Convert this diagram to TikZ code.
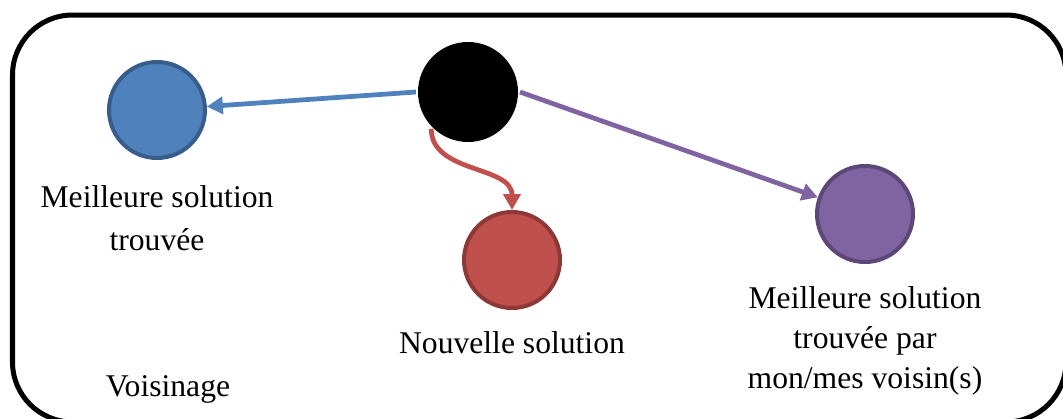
\documentclass[tikz,border=0pt]{standalone}
\usepackage{fontspec}
\setmainfont{Liberation Serif}
\usepackage{xcolor}
\usetikzlibrary{arrows.meta, positioning}

\definecolor{bestblue}{HTML}{4F81BD}
\definecolor{bestblueline}{HTML}{385D8A}
\definecolor{newred}{HTML}{C0504D}
\definecolor{newredline}{HTML}{8C3836}
\definecolor{voisinpurple}{HTML}{8064A2}
\definecolor{voisinpurpleline}{HTML}{5C4776}

\begin{document}
\begin{tikzpicture}[>={Triangle[length=0.32cm, width=0.34cm]}, node distance=0.3cm,
  sol/.style={circle, line width=0.08cm, minimum size=1.92cm, inner sep=0pt},
  lbl/.style={align=center, font=\fontsize{18}{24.5}\selectfont},
  link/.style={->, line width=0.095cm}]

\useasboundingbox (0,0) rectangle (21.26,8.36);

% Neighbourhood frame
\draw[line width=0.1cm, rounded corners=1.2cm] (0.25,-0.08) rectangle (21.32,8.06);

% Define nodes
\node[sol, fill=black, minimum size=2cm] (cur) at (9.36,6.52) {};
\node[sol, draw=bestblueline, fill=bestblue] (best) at (3.14,6.16) {};
\node[sol, draw=newredline, fill=newred] (new) at (10.24,3.16) {};
\node[sol, draw=voisinpurpleline, fill=voisinpurple] (nbest) at (17.30,4.08) {};

% Labels
\node[lbl, below=0.38cm of best] (bestlbl) {Meilleure solution\\trouvée};
\node[lbl, below=of new] (newlbl) {Nouvelle solution};
\node[lbl, font=\fontsize{18}{22.8}\selectfont, below=0.32cm of nbest] (nbestlbl) {Meilleure solution\\trouvée par\\mon/mes voisin(s)};
\node[lbl] (voisinage) at (3.36,0.58) {Voisinage};

% Draw arrows
\draw[link, bestblue] (cur.west) -- (best);
\draw[link, voisinpurple] (cur.east) -- (nbest);
\draw[link, newred] (cur.225) to[out=-90, in=90] (new.north);

\end{tikzpicture}
\end{document}
